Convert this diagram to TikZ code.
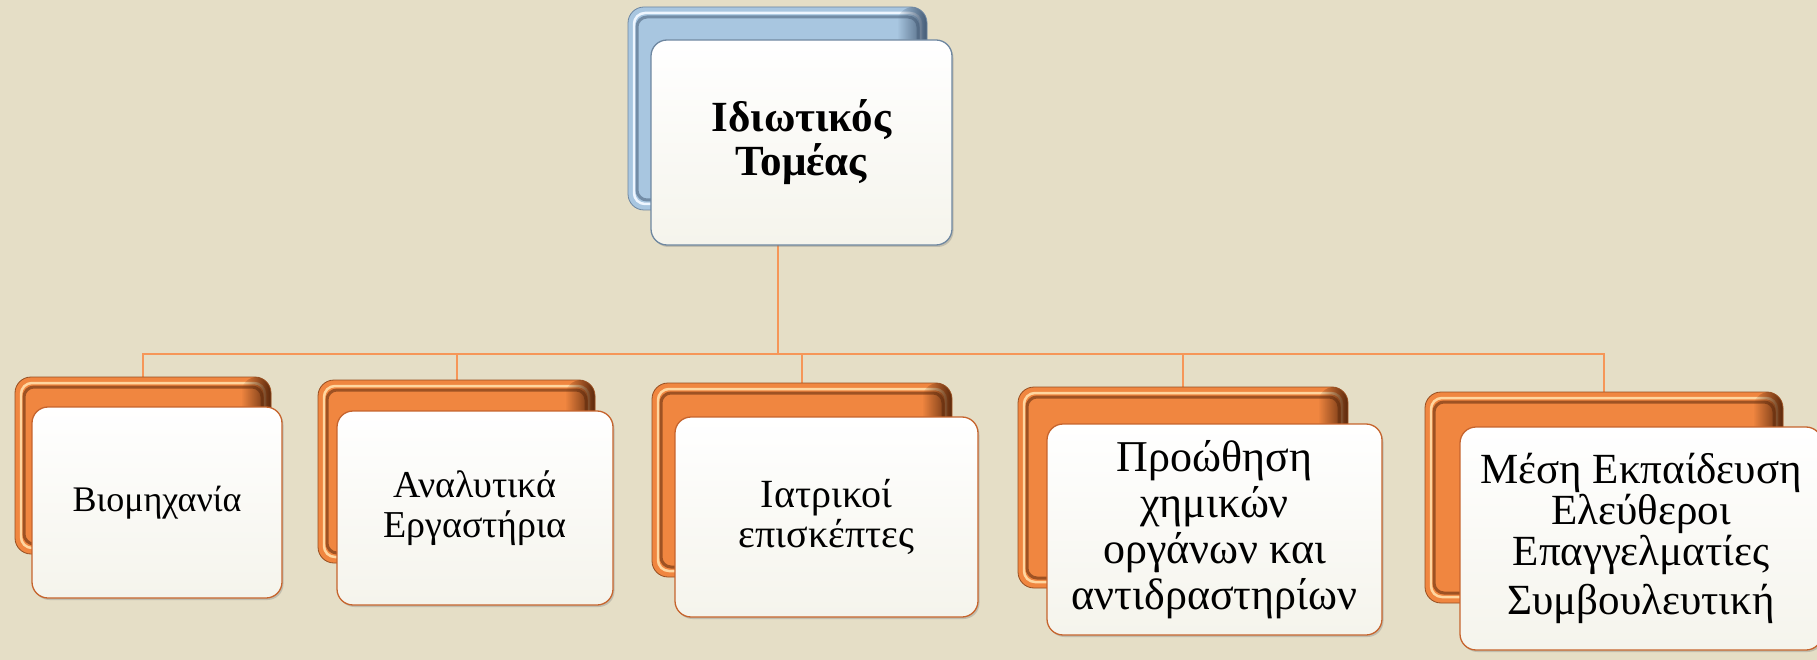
\documentclass[tikz,border=0pt]{standalone}
\usepackage{fontspec}
\setmainfont{Liberation Serif}
\usetikzlibrary{shadows,fadings}
\definecolor{bgc}{RGB}{229,222,198}
\definecolor{orM}{RGB}{240,134,64}
\definecolor{orHL}{RGB}{255,214,160}
\definecolor{orD}{RGB}{90,40,12}
\definecolor{orLine}{RGB}{198,100,45}
\definecolor{blM}{RGB}{168,198,224}
\definecolor{blHL}{RGB}{238,246,255}
\definecolor{blD}{RGB}{70,92,118}
\definecolor{blLine}{RGB}{110,135,160}
\definecolor{conc}{RGB}{246,150,88}
\definecolor{frB}{RGB}{245,244,236}
\tikzfading[name=fadeR, left color=transparent!100, right color=transparent!0]
\pgfdeclarelayer{bg}
\pgfdeclarelayer{conn}
\pgfsetlayers{bg,conn,main}
\tikzset{
  bevelbox/.style n args={3}{rounded corners=16pt, fill=#1, draw=#3!60!#1, line width=0.8pt,
    path picture={
      \draw[#2, line width=2.5pt, rounded corners=11pt]
        ([shift={(6pt,-6pt)}]path picture bounding box.north west) rectangle ([shift={(-6pt,6pt)}]path picture bounding box.south east);
      \draw[#3!55!#1, line width=3pt, rounded corners=10pt]
        ([shift={(9pt,-10pt)}]path picture bounding box.north west) rectangle ([shift={(-9pt,10pt)}]path picture bounding box.south east);
      \fill[#3, path fading=fadeR]
        ([xshift=-30pt]path picture bounding box.north east) rectangle (path picture bounding box.south east);
    }},
  orback/.style={bevelbox={orM}{orHL}{orD}},
  blback/.style={bevelbox={blM}{blHL}{blD}},
  frontbox/.style={rounded corners=16pt, draw=#1, line width=1.3pt,
    top color=white, bottom color=frB, align=center, text=black,
    drop shadow={shadow xshift=1.5pt, shadow yshift=-2pt, opacity=0.35}},
  conn/.style={draw=conc, line width=2pt},
}
\begin{document}
\begin{tikzpicture}[x=1pt, y=-1pt]
\useasboundingbox (0,0) rectangle (1817,660);
\begin{pgfonlayer}{bg}
\fill[bgc] (0,0) rectangle (1817,660);
\end{pgfonlayer}
% top
\node[blback, minimum width=299pt, minimum height=203pt] (t0b) at (777.5,108.5) {};
\node[frontbox=blLine, minimum width=301pt, minimum height=205pt,
      font=\bfseries\fontsize{43}{44}\selectfont] (t0) at (801.5,142.5) {Ιδιωτικός\\Τομέας};
% bottom back boxes
\node[orback, minimum width=256pt, minimum height=177pt] (b1b) at (143,465.5) {};
\node[orback, minimum width=277pt, minimum height=183pt] (b2b) at (456.5,471.5) {};
\node[orback, minimum width=300pt, minimum height=194pt] (b3b) at (802,480) {};
\node[orback, minimum width=330pt, minimum height=201pt] (b4b) at (1183,487.5) {};
\node[orback, minimum width=358pt, minimum height=211pt] (b5b) at (1604,497.5) {};
% bottom front boxes
\node[frontbox=orLine, minimum width=250pt, minimum height=191pt,
      font=\fontsize{36}{40}\selectfont] (b1) at (157,502.5) {Βιομηχανία};
\node[frontbox=orLine, minimum width=276pt, minimum height=194pt,
      font=\fontsize{38}{40}\selectfont] (b2) at (475,508) {Αναλυτικά\\Εργαστήρια};
\node[frontbox=orLine, minimum width=303pt, minimum height=200pt,
      font=\fontsize{40}{40}\selectfont] (b3) at (826.5,517) {Ιατρικοί\\επισκέπτες};
\node[frontbox=orLine, minimum width=335pt, minimum height=211pt,
      font=\fontsize{44}{46}\selectfont] (b4) at (1214.5,529.5) {Προώθηση\\χημικών\\οργάνων και\\αντιδραστηρίων};
\node[frontbox=orLine, minimum width=362pt, minimum height=223pt,
      font=\fontsize{43}{41}\selectfont] (b5) at (1641,538.5) {Μέση Εκπαίδευση\\Ελεύθεροι\\Επαγγελματίες\\[8pt]Συμβουλευτική};
% connectors
\begin{pgfonlayer}{conn}
\coordinate (bus) at (0,354);
\draw[conn] (t0b.south) -- (t0b.south |- bus) -| (b1b.north);
\draw[conn] (t0b.south |- bus) -| (b2b.north);
\draw[conn] (t0b.south |- bus) -| (b3b.north);
\draw[conn] (t0b.south |- bus) -| (b4b.north);
\draw[conn] (t0b.south |- bus) -| (b5b.north);
\end{pgfonlayer}
\end{tikzpicture}
\end{document}
